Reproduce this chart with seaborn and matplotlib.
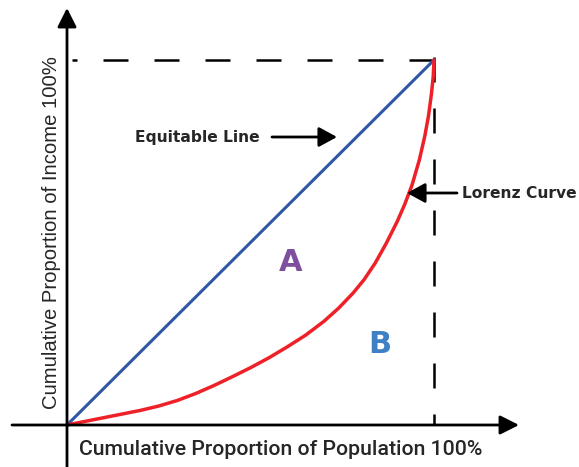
import numpy as np
import matplotlib
matplotlib.use("Agg")
import matplotlib.pyplot as plt
import seaborn as sns

# Lorenz curve (share of population vs share of income)
population = [0.00, 0.05, 0.10, 0.15, 0.20, 0.25, 0.30, 0.35, 0.40, 0.45,
              0.50, 0.55, 0.60, 0.65, 0.70, 0.74, 0.78, 0.81, 0.84, 0.87,
              0.90, 0.92, 0.94, 0.96, 0.975, 0.985, 0.993, 0.998, 1.00]
income = [0.000, 0.010, 0.020, 0.030, 0.040, 0.052, 0.067, 0.086, 0.108, 0.132,
          0.157, 0.184, 0.214, 0.246, 0.284, 0.320, 0.362, 0.399, 0.444, 0.498,
          0.558, 0.604, 0.657, 0.726, 0.792, 0.847, 0.907, 0.956, 1.000]

# line of perfect equality
equal_x = [0.0, 1.0]
equal_y = [0.0, 1.0]

x_label = "Cumulative Proportion of Population 100%"
y_label = "Cumulative Proportion of Income 100%"

BLUE = "#3057a5"
RED = "#ee2028"
PURPLE = "#7e4f9f"
LIGHT_BLUE = "#3f80c5"

sns.set_style("white")

# map pixel positions of the 579x467 picture to data units
X0, Y0, SX, SY = 67, 425, 367, 365


def px(x, y):
    return ((x - X0) / SX, (Y0 - y) / SY)


fig = plt.figure(figsize=(5.79, 4.67), dpi=100)
ax = fig.add_axes([0, 0, 1, 1])
ax.set_xlim(px(0, 0)[0], px(579, 0)[0])
ax.set_ylim(px(0, 467)[1], px(0, 0)[1])
ax.axis("off")

# dashed guides at 100% (dash lengths are scaled by the line width)
dash = (0, (10, 10.4))
ax.plot([1, px(72, 0)[0]], [1, 1], color="black", lw=1.8, linestyle=dash)
ax.plot([1, 1], [px(0, 57)[1], 0], color="black", lw=1.8, linestyle=dash)

# axes with arrows
axis_arrow = dict(arrowstyle="-|>,head_length=1.15,head_width=0.58", lw=2,
                  color="black", shrinkA=0, shrinkB=0, mutation_scale=10)
ax.annotate("", xy=px(67, 8), xytext=px(67, 467), arrowprops=axis_arrow)
ax.annotate("", xy=px(519, 425), xytext=px(12, 425), arrowprops=axis_arrow)

# curves
sns.lineplot(x=equal_x, y=equal_y, color=BLUE, lw=2.2, ax=ax)
sns.lineplot(x=population, y=income, color=RED, lw=2.5, ax=ax,
             solid_joinstyle="round")

# pointer labels
label_arrow = dict(arrowstyle="-|>,head_length=1.1,head_width=0.6", lw=2,
                   color="black", shrinkA=0, shrinkB=0, mutation_scale=10)
ax.annotate("", xy=px(337, 137), xytext=px(272, 137), arrowprops=label_arrow)
ax.annotate("", xy=px(407, 193), xytext=px(457, 193), arrowprops=label_arrow)
ax.text(*px(135, 142), "Equitable Line", fontsize=11.2, fontweight="bold",
        family="DejaVu Sans", ha="left", va="baseline")
ax.text(*px(462, 198), "Lorenz Curve", fontsize=11.2, fontweight="bold",
        family="DejaVu Sans", ha="left", va="baseline")

# area labels
ax.text(*px(291, 271), "A", fontsize=22, fontweight="bold", color=PURPLE,
        family="DejaVu Sans", ha="center", va="baseline")
ax.text(*px(380, 353), "B", fontsize=22, fontweight="bold", color=LIGHT_BLUE,
        family="DejaVu Sans", ha="center", va="baseline")

# axis titles
ax.text(*px(281, 455), x_label, fontsize=15.3, fontweight="medium",
        family=["Roboto", "DejaVu Sans"], ha="center", va="baseline")
ax.text(*px(57, 233), y_label, fontsize=14.6, rotation=90,
        rotation_mode="anchor", family=["Liberation Sans", "DejaVu Sans"],
        ha="center", va="baseline")

fig.savefig("out.png", dpi=100)
